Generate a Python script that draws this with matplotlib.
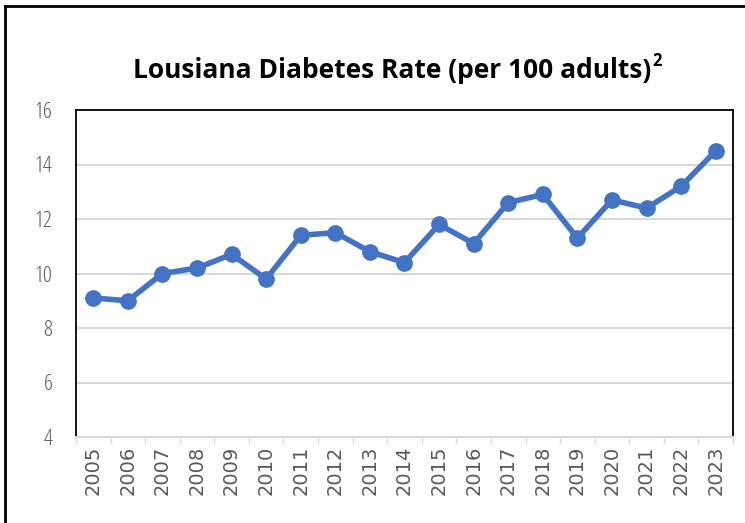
import matplotlib.pyplot as plt
from matplotlib.lines import Line2D

years = ['2005', '2006', '2007', '2008', '2009', '2010', '2011', '2012', '2013', '2014',
         '2015', '2016', '2017', '2018', '2019', '2020', '2021', '2022', '2023']
rates = [9.1, 9.0, 10.0, 10.2, 10.7, 9.8, 11.4, 11.5, 10.8, 10.4,
         11.8, 11.1, 12.6, 12.9, 11.3, 12.7, 12.4, 13.2, 14.5]
y_ticks = [4, 6, 8, 10, 12, 14, 16]

plt.rcParams['font.family'] = ['Open Sans', 'DejaVu Sans']

fig = plt.figure(figsize=(7.45, 5.23), dpi=100)
ax = fig.add_axes([76 / 745, 1 - 437 / 523, (733 - 76) / 745, (437 - 110) / 523])

x = list(range(len(years)))
ax.plot(x, rates, color='#4472c4', lw=4, marker='o', markersize=11, zorder=3)

ax.set_xlim(-0.5, len(years) - 0.5)
ax.set_ylim(4, 16)
ax.set_yticks(y_ticks)
ax.set_yticklabels([str(v) for v in y_ticks], fontsize=16, color='#595959',
                   fontstretch='condensed')
ax.set_xticks(x)
ax.set_xticklabels(years, rotation=90, fontsize=14, color='#595959',
                   family='DejaVu Sans')
ax.set_xticks([i - 0.5 for i in range(len(years) + 1)], minor=True)
ax.tick_params(axis='x', which='major', length=0, pad=6)
ax.tick_params(axis='x', which='minor', length=5, color='#d9d9d9', width=1)
ax.tick_params(axis='y', length=0, pad=17)

ax.grid(axis='y', color='#d9d9d9', lw=1.5, zorder=0)
for side in ['left', 'top', 'right']:
    ax.spines[side].set_color('black')
    ax.spines[side].set_linewidth(1.3)
ax.spines['bottom'].set_color('#d9d9d9')
ax.spines['bottom'].set_linewidth(1.5)

title = fig.text(392 / 745, 1 - 70 / 523, 'Lousiana Diabetes Rate (per 100 adults)',
                 ha='center', va='center', fontsize=19, fontweight='bold', color='black')
# superscript note marker just after the title
ax.annotate('2', xy=(1, 0.85), xycoords=title, xytext=(1, 0), textcoords='offset points',
            ha='left', va='center', fontsize=12, fontweight='bold', color='black',
            annotation_clip=False)

# outer frame (left and top edges only)
fig.add_artist(Line2D([5 / 745, 5 / 745], [0, 1 - 6 / 523], transform=fig.transFigure,
                      color='black', lw=2))
fig.add_artist(Line2D([5 / 745, 1], [1 - 6 / 523, 1 - 6 / 523], transform=fig.transFigure,
                      color='black', lw=2))

fig.savefig('out.png', dpi=100)
